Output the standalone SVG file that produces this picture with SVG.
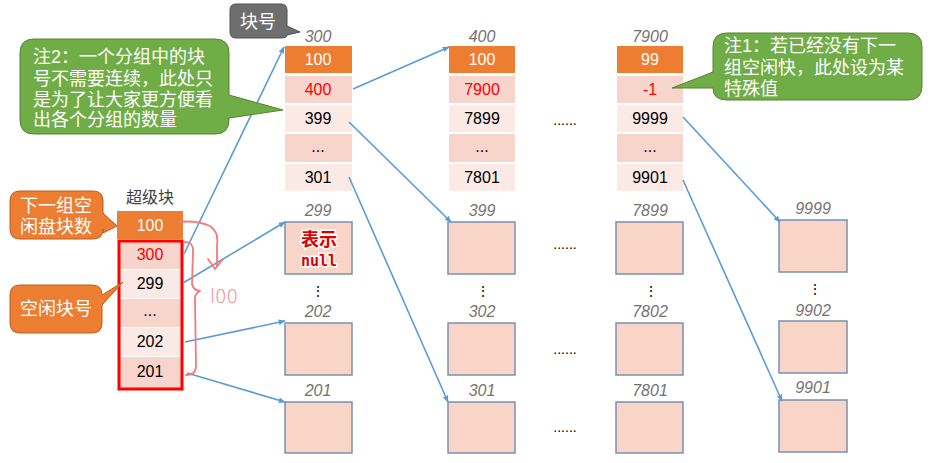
<svg xmlns="http://www.w3.org/2000/svg" width="934" height="463" viewBox="0 0 934 463">
<defs>
<marker id="arr" viewBox="0 0 10 10" refX="9" refY="5" markerWidth="7" markerHeight="7" orient="auto-start-reverse" markerUnits="userSpaceOnUse">
<path d="M0,1 L10,5 L0,9 Z" fill="#5B9BD5"/>
</marker>
<style>
.num{font-family:"Liberation Sans",Arial,sans-serif;font-size:16px;text-anchor:middle;fill:#000}
.hdr{fill:#ED7D31}
.hd{fill:#fff}
.rd{fill:#F7D4CC}
.rl{fill:#FBE9E5}
.red{fill:#FF0000}
.lbl{font-family:"Liberation Sans",Arial,sans-serif;font-style:italic;font-size:16px;fill:#767171;text-anchor:middle}
.box{fill:#F9D5C7;stroke:#7890B2;stroke-width:1.5}
.dots{font-family:"Liberation Sans",Arial,sans-serif;font-size:14px;fill:#000;text-anchor:middle}
.cj{font-family:"Liberation Sans","Noto Sans CJK SC",sans-serif;font-size:18px;fill:#fff}
.green{fill:#70AD47;stroke:#548235;stroke-width:1}
.orange{fill:#ED7D31;stroke:#B85E20;stroke-width:1}
.conn{stroke:#5B9BD5;stroke-width:1.6;fill:none;marker-end:url(#arr)}
.ink{stroke:#F47A7A;stroke-width:1.8;fill:none;stroke-linecap:round;stroke-linejoin:round}
</style>
</defs>

<!-- Superblock -->
<g id="superblock">
<text x="150" y="203" font-family="Liberation Sans,Noto Sans CJK SC,sans-serif" font-size="16" fill="#404040" text-anchor="middle">超级块</text>
<rect x="117" y="211" width="66" height="28" class="hdr"/>
<text x="150" y="231" class="num hd">100</text>
<rect x="119" y="241" width="63" height="28" class="rd"/>
<rect x="119" y="270" width="63" height="28" class="rl"/>
<rect x="119" y="299" width="63" height="28" class="rd"/>
<rect x="119" y="328" width="63" height="28" class="rl"/>
<rect x="119" y="357" width="63" height="31" class="rd"/>
<text x="150" y="260" class="num red">300</text>
<text x="150" y="289" class="num">299</text>
<text x="150" y="316" class="num">...</text>
<text x="150" y="347" class="num">202</text>
<text x="150" y="377" class="num">201</text>
<rect x="119" y="241" width="63" height="148" fill="none" stroke="#FF0000" stroke-width="3"/>
</g>

<!-- Column 300 -->
<g id="group300">
<text x="318" y="42" class="lbl">300</text>
<rect x="285" y="46" width="67" height="27" class="hdr"/>
<text x="318" y="65" class="num hd">100</text>
<rect x="285" y="76" width="67" height="27" class="rd"/>
<rect x="285" y="105" width="67" height="27" class="rl"/>
<rect x="285" y="134" width="67" height="28" class="rd"/>
<rect x="285" y="164" width="67" height="27" class="rl"/>
<text x="318" y="95" class="num red">400</text>
<text x="318" y="124" class="num">399</text>
<text x="318" y="152" class="num">...</text>
<text x="318" y="183" class="num">301</text>
</g>

<!-- Column 400 -->
<g id="group400">
<text x="482" y="42" class="lbl">400</text>
<rect x="449" y="46" width="66" height="27" class="hdr"/>
<text x="482" y="65" class="num hd">100</text>
<rect x="449" y="76" width="66" height="27" class="rd"/>
<rect x="449" y="105" width="66" height="27" class="rl"/>
<rect x="449" y="134" width="66" height="28" class="rd"/>
<rect x="449" y="164" width="66" height="27" class="rl"/>
<text x="482" y="95" class="num red">7900</text>
<text x="482" y="124" class="num">7899</text>
<text x="482" y="152" class="num">...</text>
<text x="482" y="183" class="num">7801</text>
</g>

<!-- Column 7900 -->
<g id="group7900">
<text x="650" y="42" class="lbl">7900</text>
<rect x="617" y="46" width="66" height="27" class="hdr"/>
<text x="650" y="65" class="num hd">99</text>
<rect x="617" y="76" width="66" height="27" class="rd"/>
<rect x="617" y="105" width="66" height="27" class="rl"/>
<rect x="617" y="134" width="66" height="28" class="rd"/>
<rect x="617" y="164" width="66" height="27" class="rl"/>
<text x="650" y="95" class="num red">-1</text>
<text x="650" y="124" class="num">9999</text>
<text x="650" y="152" class="num">...</text>
<text x="650" y="183" class="num">9901</text>
</g>

<!-- Free blocks column 1 -->
<g id="blk299">
<text x="318" y="216" class="lbl">299</text>
<rect x="285" y="222" width="67" height="52" class="box"/>
<text x="319" y="246" font-family="Liberation Sans,Noto Sans CJK SC,sans-serif" font-size="18" font-weight="bold" fill="#E00000" text-anchor="middle" stroke="#fff" stroke-width="3" paint-order="stroke">表示</text>
<text x="319" y="266" font-family="DejaVu Sans Mono,monospace" font-size="15" font-weight="bold" fill="#E00000" text-anchor="middle" stroke="#fff" stroke-width="3" paint-order="stroke">null</text>
</g>
<g id="blk202">
<text x="318" y="317" class="lbl">202</text>
<rect x="285" y="323" width="67" height="52" class="box"/>
</g>
<g id="blk201">
<text x="318" y="396" class="lbl">201</text>
<rect x="285" y="402" width="67" height="51" class="box"/>
</g>

<!-- Free blocks column 2 -->
<g id="blk399">
<text x="482" y="216" class="lbl">399</text>
<rect x="448" y="222" width="67" height="52" class="box"/>
</g>
<g id="blk302">
<text x="482" y="317" class="lbl">302</text>
<rect x="448" y="323" width="67" height="52" class="box"/>
</g>
<g id="blk301">
<text x="482" y="396" class="lbl">301</text>
<rect x="448" y="402" width="67" height="51" class="box"/>
</g>

<!-- Free blocks column 3 -->
<g id="blk7899">
<text x="650" y="216" class="lbl">7899</text>
<rect x="616" y="222" width="67" height="52" class="box"/>
</g>
<g id="blk7802">
<text x="650" y="317" class="lbl">7802</text>
<rect x="616" y="323" width="67" height="52" class="box"/>
</g>
<g id="blk7801">
<text x="650" y="396" class="lbl">7801</text>
<rect x="616" y="402" width="67" height="51" class="box"/>
</g>

<!-- Free blocks column 4 -->
<g id="blk9999">
<text x="813" y="214" class="lbl">9999</text>
<rect x="779" y="220" width="68" height="52" class="box"/>
</g>
<g id="blk9902">
<text x="813" y="316" class="lbl">9902</text>
<rect x="779" y="321" width="68" height="52" class="box"/>
</g>
<g id="blk9901">
<text x="813" y="393" class="lbl">9901</text>
<rect x="779" y="400" width="68" height="52" class="box"/>
</g>

<!-- ellipses -->
<g id="ellipses">
<text x="565" y="125" class="dots">......</text>
<text x="565" y="249" class="dots">......</text>
<text x="565" y="354" class="dots">......</text>
<text x="565" y="432" class="dots">......</text>
<text x="318" y="296" class="dots">⋮</text>
<text x="483" y="296" class="dots">⋮</text>
<text x="651" y="296" class="dots">⋮</text>
<text x="815" y="294" class="dots">⋮</text>
</g>

<!-- Connectors -->
<g id="connectors">
<line x1="184" y1="254" x2="284" y2="47" class="conn"/>
<line x1="183" y1="283" x2="285" y2="222" class="conn"/>
<line x1="185" y1="342" x2="285" y2="321" class="conn"/>
<line x1="187" y1="373" x2="285" y2="402" class="conn"/>
<line x1="353" y1="89" x2="449" y2="47" class="conn"/>
<line x1="349" y1="122" x2="451" y2="222" class="conn"/>
<line x1="349" y1="177" x2="448" y2="402" class="conn"/>
<line x1="683" y1="117" x2="780" y2="222" class="conn"/>
<line x1="683" y1="180" x2="782" y2="401" class="conn"/>
</g>

<!-- Callouts -->
<g id="callout-blockno">
<path d="M236,4 H281 Q287,4 287,10 V26 L300,32 L287,35 Q287,38 281,38 H236 Q230,38 230,32 V10 Q230,4 236,4 Z" fill="#6E6E6E" stroke="#505050" stroke-width="1"/>
<text x="240" y="28" class="cj">块号</text>
</g>

<g id="callout-note2">
<path d="M34,39 H215 Q229,39 229,53 V95 L283,110 L229,118 V120 Q229,134 215,134 H34 Q20,134 20,120 V53 Q20,39 34,39 Z" class="green"/>
<text class="cj"><tspan x="33" y="63">注2：一个分组中的块</tspan><tspan x="33" y="85">号不需要连续，此处只</tspan><tspan x="33" y="106">是为了让大家更方便看</tspan><tspan x="33" y="126">出各个分组的数量</tspan></text>
</g>

<g id="callout-note1">
<path d="M727,33 H908 Q922,33 922,47 V86 Q922,100 908,100 H727 Q713,100 713,88 L672,88 L713,72 V47 Q713,33 727,33 Z" class="green"/>
<text class="cj"><tspan x="724" y="52">注1：若已经没有下一</tspan><tspan x="724" y="74">组空闲快，此处设为某</tspan><tspan x="724" y="95">特殊值</tspan></text>
</g>

<g id="callout-nextcount">
<path d="M20,191 H93 Q103,191 103,201 V213 L117,226 L103,233 V229 Q103,239 93,239 H20 Q10,239 10,229 V201 Q10,191 20,191 Z" class="orange"/>
<text class="cj"><tspan x="20" y="212">下一组空</tspan><tspan x="20" y="233">闲盘块数</tspan></text>
</g>

<g id="callout-freeno">
<path d="M20,285 H92 Q102,285 102,295 L123,282 L102,305 V323 Q102,333 92,333 H20 Q10,333 10,323 V295 Q10,285 20,285 Z" class="orange"/>
<text x="20" y="315" class="cj">空闲块号</text>
</g>

<!-- Hand-drawn annotation -->
<g id="annotation">
<path class="ink" d="M179,222 Q196,220 210,226 Q219,232 217,245 L217,266"/>
<path class="ink" d="M208,259 L215,269 L223,259"/>
<path class="ink" d="M184,242 Q194,242 193,252 L192,284 Q193,290 200,291 Q194,294 195,300 L196,366 Q196,375 186,375"/>
<text x="210" y="303" font-family="DejaVu Sans,sans-serif" font-size="20" font-weight="300" fill="#F47A7A" textLength="28" lengthAdjust="spacingAndGlyphs">l00</text>
</g>
</svg>
